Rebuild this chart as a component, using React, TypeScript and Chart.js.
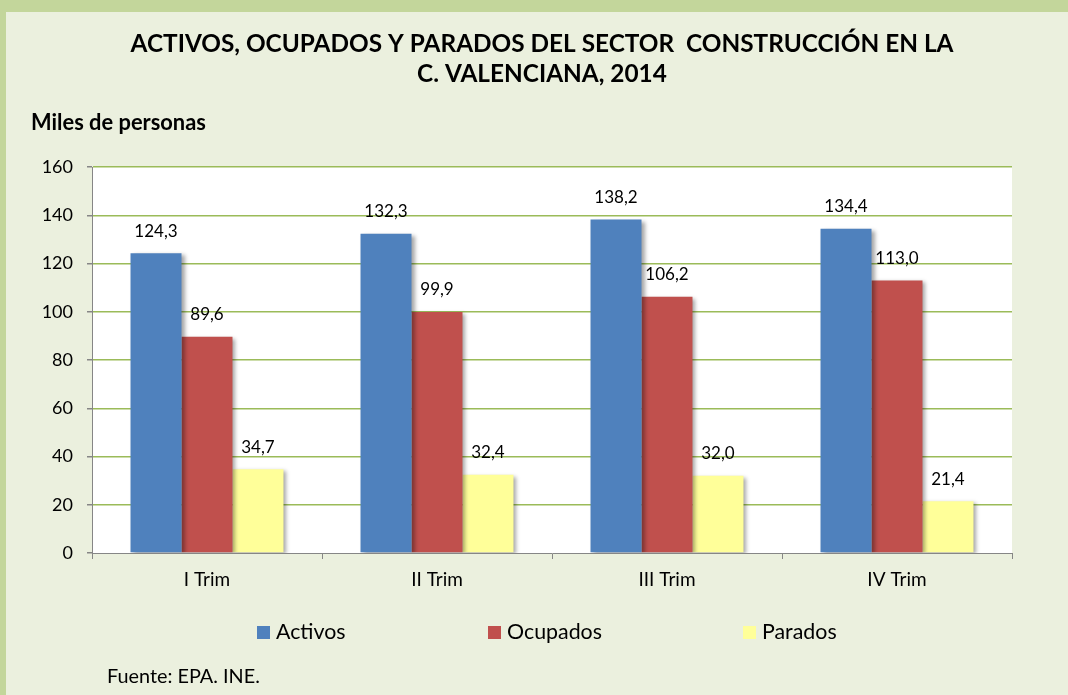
import React, { useEffect, useRef } from "react";
import { Chart, registerables } from "chart.js";

Chart.register(...registerables);

const categories = ["I Trim", "II Trim", "III Trim", "IV Trim"];
const activos = [124.3, 132.3, 138.2, 134.4];
const ocupados = [89.6, 99.9, 106.2, 113.0];
const parados = [34.7, 32.4, 32.0, 21.4];
const seriesNames = ["Activos", "Ocupados", "Parados"];
const seriesColors = ["#4F81BD", "#C0504D", "#FFFF99"];
const titleLines = [
  "ACTIVOS, OCUPADOS Y PARADOS DEL SECTOR  CONSTRUCCIÓN EN LA",
  "C. VALENCIANA, 2014",
];
const unitLabel = "Miles de personas";
const sourceLabel = "Fuente: EPA. INE.";

const FONT = "Lato";

function fitFont(ctx: CanvasRenderingContext2D, text: string, target: number, weight: string) {
  ctx.font = `${weight} 20px ${FONT}`;
  const w = ctx.measureText(text).width;
  return (20 * target) / w;
}

const decorPlugin = {
  id: "decor",
  beforeDraw(chart: any) {
    const { ctx, width, height, chartArea } = chart;
    ctx.save();
    ctx.fillStyle = "#C3D69B";
    ctx.fillRect(0, 0, width, height);
    ctx.fillStyle = "#EBF0DE";
    ctx.fillRect(6, 12, width - 6, height - 12);
    ctx.fillStyle = "#FFFFFF";
    ctx.fillRect(chartArea.left, chartArea.top, chartArea.right - chartArea.left, chartArea.bottom - chartArea.top);
    ctx.restore();
  },
  beforeDatasetsDraw(chart: any) {
    const { ctx } = chart;
    ctx.save();
    ctx.shadowColor = "rgba(0,0,0,0.35)";
    ctx.shadowBlur = 4;
    ctx.shadowOffsetX = 3;
    ctx.shadowOffsetY = 2;
  },
  afterDatasetsDraw(chart: any) {
    const { ctx } = chart;
    ctx.restore();
    ctx.save();
    ctx.fillStyle = "#000000";
    ctx.textAlign = "center";
    ctx.textBaseline = "middle";
    ctx.font = `17px ${FONT}`;
    chart.data.datasets.forEach((ds: any, di: number) => {
      const meta = chart.getDatasetMeta(di);
      meta.data.forEach((bar: any, i: number) => {
        const v = ds.data[i] as number;
        const txt = v.toFixed(1).replace(".", ",");
        ctx.fillText(txt, bar.x, bar.y - 22);
      });
    });
    ctx.restore();
  },
  afterDraw(chart: any) {
    const { ctx } = chart;
    ctx.save();
    ctx.fillStyle = "#000000";
    ctx.textBaseline = "middle";
    // title
    ctx.textAlign = "center";
    const ts = fitFont(ctx, titleLines[0], 823, "bold");
    ctx.font = `bold ${ts}px ${FONT}`;
    ctx.fillText(titleLines[0], 542, 44);
    ctx.fillText(titleLines[1], 542, 74);
    // unit
    ctx.textAlign = "left";
    const us = fitFont(ctx, unitLabel, 175, "bold");
    ctx.font = `bold ${us}px ${FONT}`;
    ctx.fillText(unitLabel, 31, 123);
    // legend
    const ls = fitFont(ctx, "Ocupados", 95, "normal");
    ctx.font = `${ls}px ${FONT}`;
    const legendX = [257, 488, 743];
    seriesNames.forEach((n, i) => {
      ctx.fillStyle = seriesColors[i];
      ctx.fillRect(legendX[i], 626, 13, 13);
      ctx.fillStyle = "#000000";
      ctx.fillText(n, legendX[i] + 19, 632);
    });
    // source
    const ss = fitFont(ctx, sourceLabel, 153, "normal");
    ctx.font = `${ss}px ${FONT}`;
    ctx.fillText(sourceLabel, 107, 677);
    ctx.restore();
  },
};

export default function App() {
  const ref = useRef<HTMLCanvasElement | null>(null);
  useEffect(() => {
    if (!ref.current) return;
    const data = [activos, ocupados, parados];
    const chart = new Chart(ref.current, {
      type: "bar",
      data: {
        labels: categories,
        datasets: seriesNames.map((n, i) => ({
          label: n,
          data: data[i],
          backgroundColor: seriesColors[i],
          borderWidth: 0,
          categoryPercentage: 0.665,
          barPercentage: 1,
        })),
      },
      options: {
        responsive: false,
        animation: false,
        devicePixelRatio: 1,
        layout: { padding: { left: 32, right: 56, top: 167, bottom: 102 } },
        plugins: {
          legend: { display: false },
          title: { display: false },
          tooltip: { enabled: false },
        },
        scales: {
          x: {
            afterFit: (s: any) => {
              s.height = 40;
            },
            grid: {
              offset: true,
              drawOnChartArea: false,
              tickLength: 6,
              tickColor: "#868686",
              color: "#868686",
            },
            border: { display: true, color: "#868686", width: 1 },
            ticks: { color: "#000000", padding: 9, font: { family: FONT, size: 19 } },
          },
          y: {
            min: 0,
            max: 160,
            afterFit: (s: any) => {
              s.width = 60;
            },
            ticks: { stepSize: 20, color: "#000000", padding: 14, font: { family: FONT, size: 18 } },
            grid: {
              color: (c: any) => (c.tick && c.tick.value === 0 ? "rgba(0,0,0,0)" : "#9BBB59"),
              lineWidth: 1.5,
              tickLength: 5,
              tickColor: "#868686",
            },
            border: { display: true, color: "#868686", width: 1 },
          },
        },
      },
      plugins: [decorPlugin],
    });
    return () => chart.destroy();
  }, []);
  return (
    <div style={{ position: "fixed", left: 0, top: 0, width: 1068, height: 695 }}>
      <canvas ref={ref} width={1068} height={695} />
    </div>
  );
}
